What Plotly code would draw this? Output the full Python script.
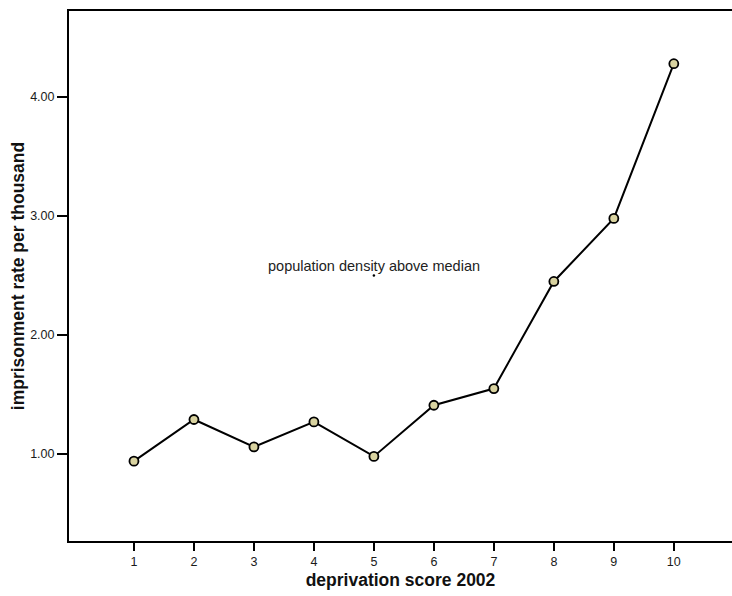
import plotly.graph_objects as go

scores = [1, 2, 3, 4, 5, 6, 7, 8, 9, 10]
rates = [0.94, 1.29, 1.06, 1.27, 0.98, 1.41, 1.55, 2.45, 2.98, 4.28]
y_ticks = [1.0, 2.0, 3.0, 4.0]
label_text = "population density above median"
label_x = 5
label_y = 2.5

fig = go.Figure()
fig.add_trace(go.Scatter(
    x=scores, y=rates, mode="lines+markers",
    line=dict(color="black", width=2),
    marker=dict(size=9, color="#d9d3a0", line=dict(color="black", width=1.8)),
    showlegend=False, hoverinfo="skip",
))
fig.add_trace(go.Scatter(
    x=[label_x], y=[label_y], mode="markers",
    marker=dict(size=2.5, color="black"),
    showlegend=False, hoverinfo="skip",
))
fig.add_annotation(
    x=label_x, y=label_y, text=label_text, showarrow=False,
    yshift=10, font=dict(family="Liberation Sans, Arial", size=14.5, color="#222"),
)

fig.update_layout(
    width=732, height=596,
    margin=dict(l=69, r=0, t=11, b=55),
    paper_bgcolor="white", plot_bgcolor="white",
    font=dict(family="Liberation Sans, Arial", color="black"),
    xaxis=dict(
        range=[-0.083, 10.97], tickvals=scores, ticktext=[str(s) for s in scores],
        showgrid=False, zeroline=False, showline=True, linecolor="black", linewidth=2,
        mirror=True, ticks="outside", ticklen=8, tickwidth=2, tickcolor="black",
        tickfont=dict(size=12.5, color="#1a1a1a"), automargin=False,
        title=dict(text="<b>deprivation score 2002</b>", font=dict(size=17.5, color="#111"), standoff=6),
    ),
    yaxis=dict(
        range=[0.269, 4.723], tickvals=y_ticks, ticktext=[f"{v:.2f}" for v in y_ticks],
        showgrid=False, zeroline=False, showline=True, linecolor="black", linewidth=2,
        mirror=False, ticks="outside", ticklen=10, tickwidth=2, tickcolor="black",
        tickfont=dict(size=12.5, color="#1a1a1a"), automargin=False,
        title=dict(text="<b>imprisonment rate per thousand</b>", font=dict(size=17.5, color="#111"), standoff=1),
    ),
)

fig.write_html(
    "out.html",
    config={"displayModeBar": False},
    post_script="document.body.style.margin='0';document.body.style.overflow='hidden';",
)
